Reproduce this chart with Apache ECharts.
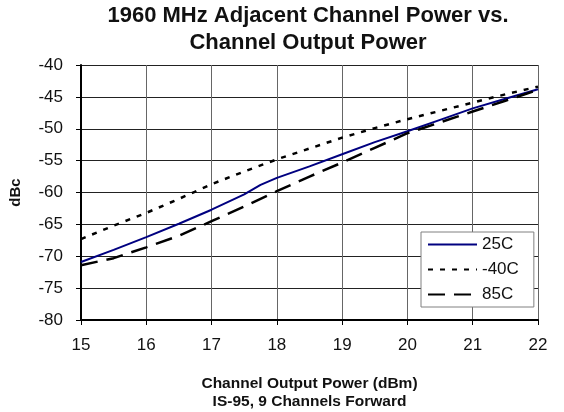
<!DOCTYPE html>
<html>
<head>
<meta charset="utf-8">
<script src="https://cdn.jsdelivr.net/npm/echarts@6/dist/echarts.min.js"></script>
<style>html,body{margin:0;padding:0;background:#fff}#c{width:564px;height:412px}</style>
</head>
<body>
<div id="c"></div>
<script>
var xTicks = [15, 16, 17, 18, 19, 20, 21, 22];
var yTicks = [-80, -75, -70, -65, -60, -55, -50, -45, -40];

var x25 = [15, 15.5, 16, 16.5, 17, 17.5, 17.75, 18, 18.5, 19, 19.5, 20, 20.5, 21, 21.5, 22];
var y25 = [-70.9, -69.0, -67.0, -64.9, -62.7, -60.3, -58.8, -57.7, -55.9, -54.0, -52.1, -50.4, -48.6, -46.8, -45.3, -43.8];

var xM40 = [15, 15.5, 16, 16.5, 17, 17.5, 18, 18.5, 19, 19.5, 20, 20.5, 21, 21.5, 22];
var yM40 = [-67.3, -65.2, -63.2, -61.0, -58.7, -56.7, -54.8, -53.1, -51.4, -49.9, -48.5, -47.2, -45.9, -44.6, -43.4];

var x85 = [15, 15.5, 16, 16.5, 17, 17.5, 18, 18.5, 19, 19.5, 20, 20.5, 21, 21.5, 22];
var y85 = [-71.4, -70.3, -68.6, -66.8, -64.5, -62.2, -59.8, -57.5, -55.3, -53.0, -50.7, -49.0, -47.3, -45.6, -43.9];

var seriesNames = ['25C', '-40C', '85C'];

function pairs(xs, ys) { return xs.map(function (x, i) { return [x, ys[i]]; }); }

var FONT = '"Liberation Sans", Arial, sans-serif';
var chart = echarts.init(document.getElementById('c'), null, {renderer: 'canvas'});
chart.setOption({
  animation: false,
  backgroundColor: '#fff',
  title: {
    text: '1960 MHz Adjacent Channel Power vs.\nChannel Output Power',
    left: 308, top: 2, textAlign: 'center', padding: 0,
    textStyle: {fontFamily: FONT, fontWeight: 'bold', fontSize: 22, lineHeight: 27, color: '#111'}
  },
  grid: {left: 81, right: 26, top: 65, bottom: 92, containLabel: false, outerBoundsMode: 'none'},
  legend: {
    orient: 'vertical', left: 421, top: 232,
    data: seriesNames,
    itemWidth: 49, itemHeight: 14, itemGap: 8,
    padding: [4, 15, 4, 6],
    backgroundColor: '#fff', borderColor: '#808080', borderWidth: 1,
    itemStyle: {color: 'rgba(0,0,0,0)', borderWidth: 0, opacity: 0},
    textStyle: {fontFamily: FONT, fontSize: 17, color: '#111'}
  },
  xAxis: {
    type: 'value', min: xTicks[0], max: xTicks[xTicks.length - 1], interval: 1,
    name: 'Channel Output Power (dBm)\nIS-95, 9 Channels Forward',
    nameLocation: 'middle', nameGap: 55,
    nameTextStyle: {fontFamily: FONT, fontWeight: 'bold', fontSize: 15.5, lineHeight: 18, color: '#111'},
    axisLine: {lineStyle: {color: '#000', width: 2}},
    axisTick: {show: true, length: 5, lineStyle: {color: '#000', width: 1}},
    axisLabel: {fontFamily: FONT, fontSize: 17, color: '#111', margin: 17},
    splitLine: {show: true, lineStyle: {color: '#666', width: 1}}
  },
  yAxis: {
    type: 'value', min: yTicks[0], max: yTicks[yTicks.length - 1], interval: 5,
    name: 'dBc', nameLocation: 'middle', nameGap: 58,
    nameTextStyle: {fontFamily: FONT, fontWeight: 'bold', fontSize: 15, color: '#111'},
    axisLine: {show: true, lineStyle: {color: '#000', width: 2}},
    axisTick: {show: true, length: 5, lineStyle: {color: '#000', width: 1}},
    axisLabel: {fontFamily: FONT, fontSize: 17, color: '#111', margin: 18},
    splitLine: {show: true, lineStyle: {color: '#222', width: 1}}
  },
  series: [
    {name: seriesNames[0], type: 'line', symbol: 'none', data: pairs(x25, y25),
     lineStyle: {color: '#000080', width: 2}, itemStyle: {color: '#000080'}},
    {name: seriesNames[1], type: 'line', symbol: 'none', data: pairs(xM40, yM40),
     lineStyle: {color: '#000', width: 2.5, type: [5, 7]}, itemStyle: {color: '#000'}},
    {name: seriesNames[2], type: 'line', symbol: 'none', data: pairs(x85, y85),
     lineStyle: {color: '#000', width: 2.5, type: [17, 9]}, itemStyle: {color: '#000'}}
  ]
});
</script>
</body>
</html>
